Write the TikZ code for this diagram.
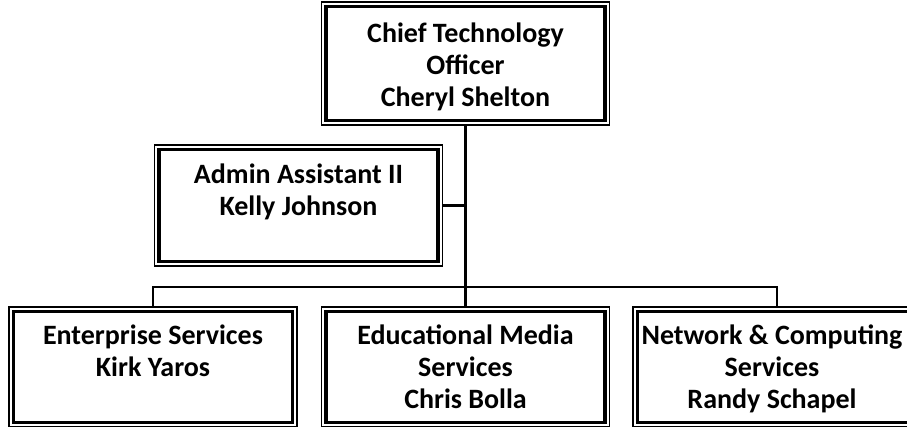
\documentclass[tikz,border=0pt]{standalone}
\usepackage{fontspec}
\setmainfont{Carlito}
\usetikzlibrary{positioning}

\tikzset{
  orgbox/.style={rectangle, draw, line width=1.1pt, minimum width=288pt, minimum height=121pt, inner sep=0pt,
    path picture={\draw[line width=3.4pt] ([shift={(4.6pt,-4.6pt)}]path picture bounding box.north west) rectangle ([shift={(-4.6pt,4.6pt)}]path picture bounding box.south east);}},
  boxtext/.style={anchor=north, align=center, inner sep=0pt, font=\fontsize{28}{32}\selectfont\bfseries},
  link/.style={line width=2.9pt}
}

\begin{document}
\begin{tikzpicture}[x=1pt, y=-1pt]
        \useasboundingbox (0,0) rectangle (907,427);
        \clip (0,0) rectangle (907,427);

        \node (cto) [orgbox, minimum height=123pt, label={[boxtext, yshift=-18.5pt]north:{\strut Chief Technology\\Officer\\Cheryl Shelton}}] at (465.5,63.5) {};
        \node (admin) [orgbox, label={[boxtext, yshift=-16pt]north:{\strut Admin Assistant II\\Kelly Johnson}}] at (298.5,205.5) {};

        \node (ent) [orgbox, minimum height=120pt, label={[boxtext, yshift=-15pt]north:{\strut Enterprise Services\\Kirk Yaros}}] at (153,367) {};
        \node (edu) [orgbox, minimum height=120pt, label={[boxtext, yshift=-15pt]north:{\strut Educational Media\\Services\\Chris Bolla}}] at (465.5,367) {};
        \node (net) [orgbox, minimum height=120pt, label={[boxtext, yshift=-15pt, xshift=-5pt]north:{\strut Network \& Computing\\Services\\Randy Schapel}}] at (777,367) {};

        \coordinate (bus) at (465.5,287);

        \draw [link] (cto.south) -- (edu.north);
        \draw [link] (admin.east) -- (admin.east -| cto.south);
        \draw [link] (ent.north) |- (bus) -| (net.north);
\end{tikzpicture}
\end{document}
